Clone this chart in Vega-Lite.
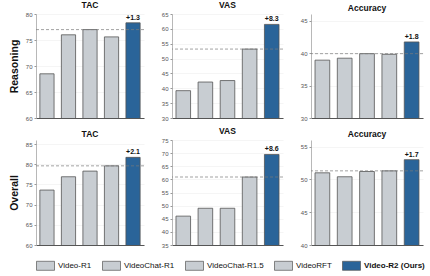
{
  "$schema": "https://vega.github.io/schema/vega-lite/v6.json",
  "padding": {"left": 9, "top": 0, "right": 2, "bottom": 2},
  "background": "white",
  "spacing": 5,
  "config": {
    "font": "Liberation Sans",
    "view": {"stroke": null},
    "title": {"fontSize": 8.5, "fontWeight": "bold", "offset": 2, "color": "#111"},
    "axisY": {"labelFontSize": 6, "labelColor": "#555", "domainColor": "#999", "tickColor": "#999", "tickSize": 2, "labelPadding": 2, "gridColor": "#eeeeee", "gridWidth": 0.6, "domainWidth": 0.7, "labelOverlap": false},
    "axisX": {"labels": false, "ticks": false, "title": null, "domainColor": "#555", "domainWidth": 1, "grid": false},
    "legend": {"orient": "bottom", "direction": "horizontal", "title": null, "labelFontSize": 8, "labelColor": "#111", "symbolType": "M-1,-0.5H1V0.5H-1Z", "symbolSize": 324, "symbolStrokeColor": "#555", "symbolStrokeWidth": 0.7, "columnPadding": 9, "labelOffset": 3, "offset": 8, "labelLimit": 200}
  },
  "data": {"values": [
    {"group": "Reasoning", "metric": "TAC", "model": "Video-R1", "value": 68.5},
    {"group": "Reasoning", "metric": "TAC", "model": "VideoChat-R1", "value": 76.0},
    {"group": "Reasoning", "metric": "TAC", "model": "VideoChat-R1.5", "value": 77.0},
    {"group": "Reasoning", "metric": "TAC", "model": "VideoRFT", "value": 75.6},
    {"group": "Reasoning", "metric": "TAC", "model": "Video-R2 (Ours)", "value": 78.3, "gain": "+1.3"},
    {"group": "Reasoning", "metric": "VAS", "model": "Video-R1", "value": 39.2},
    {"group": "Reasoning", "metric": "VAS", "model": "VideoChat-R1", "value": 42.1},
    {"group": "Reasoning", "metric": "VAS", "model": "VideoChat-R1.5", "value": 42.6},
    {"group": "Reasoning", "metric": "VAS", "model": "VideoRFT", "value": 53.2},
    {"group": "Reasoning", "metric": "VAS", "model": "Video-R2 (Ours)", "value": 61.5, "gain": "+8.3"},
    {"group": "Reasoning", "metric": "Accuracy", "model": "Video-R1", "value": 38.9},
    {"group": "Reasoning", "metric": "Accuracy", "model": "VideoChat-R1", "value": 39.2},
    {"group": "Reasoning", "metric": "Accuracy", "model": "VideoChat-R1.5", "value": 39.9},
    {"group": "Reasoning", "metric": "Accuracy", "model": "VideoRFT", "value": 39.8},
    {"group": "Reasoning", "metric": "Accuracy", "model": "Video-R2 (Ours)", "value": 41.7, "gain": "+1.8"},
    {"group": "Overall", "metric": "TAC", "model": "Video-R1", "value": 73.6},
    {"group": "Overall", "metric": "TAC", "model": "VideoChat-R1", "value": 76.9},
    {"group": "Overall", "metric": "TAC", "model": "VideoChat-R1.5", "value": 78.3},
    {"group": "Overall", "metric": "TAC", "model": "VideoRFT", "value": 79.6},
    {"group": "Overall", "metric": "TAC", "model": "Video-R2 (Ours)", "value": 81.7, "gain": "+2.1"},
    {"group": "Overall", "metric": "VAS", "model": "Video-R1", "value": 46.0},
    {"group": "Overall", "metric": "VAS", "model": "VideoChat-R1", "value": 49.0},
    {"group": "Overall", "metric": "VAS", "model": "VideoChat-R1.5", "value": 49.0},
    {"group": "Overall", "metric": "VAS", "model": "VideoRFT", "value": 60.9},
    {"group": "Overall", "metric": "VAS", "model": "Video-R2 (Ours)", "value": 69.5, "gain": "+8.6"},
    {"group": "Overall", "metric": "Accuracy", "model": "Video-R1", "value": 51.0},
    {"group": "Overall", "metric": "Accuracy", "model": "VideoChat-R1", "value": 50.4},
    {"group": "Overall", "metric": "Accuracy", "model": "VideoChat-R1.5", "value": 51.2},
    {"group": "Overall", "metric": "Accuracy", "model": "VideoRFT", "value": 51.3},
    {"group": "Overall", "metric": "Accuracy", "model": "Video-R2 (Ours)", "value": 53.0, "gain": "+1.7"}
  ]},
  "vconcat": [
    {"spacing": 16, "hconcat": [
      {"title": "TAC", "width": 108, "height": 104,
       "transform": [{"filter": "datum.group == 'Reasoning' && datum.metric == 'TAC'"}],
       "layer": [
        {"mark": {"type": "bar", "clip": true, "stroke": "#555", "strokeWidth": 0.8},
         "encoding": {
          "x": {"field": "model", "type": "nominal", "sort": null, "scale": {"paddingInner": 0.34, "paddingOuter": 0.18}},
          "y": {"field": "value", "type": "quantitative", "scale": {"domain": [60, 80], "zero": false}, "axis": {"values": [60, 65, 70, 75, 80], "labelOverlap": false, "title": "Reasoning", "titleFontSize": 10.5, "titleFontWeight": "bold", "titleColor": "#111", "titlePadding": 6}},
          "color": {"field": "model", "type": "nominal", "sort": null, "scale": {"domain": ["Video-R1", "VideoChat-R1", "VideoChat-R1.5", "VideoRFT", "Video-R2 (Ours)"], "range": ["#c8cdd2", "#c8cdd2", "#c8cdd2", "#c8cdd2", "#2a6499"]}, "legend": {"encode": {"labels": {"update": {"fontWeight": {"signal": "datum.label == 'Video-R2 (Ours)' ? 'bold' : 'normal'"}}}}}}}},
        {"mark": {"type": "rule", "strokeDash": [3, 2], "color": "#7a7a7a", "strokeWidth": 0.7},
         "transform": [{"filter": "datum.model != 'Video-R2 (Ours)'"}],
         "encoding": {"y": {"aggregate": "max", "field": "value", "type": "quantitative", "axis": {"values": [60, 65, 70, 75, 80], "labelOverlap": false, "title": "Reasoning"}}}},
        {"mark": {"type": "text", "dy": -5, "fontSize": 7, "fontWeight": "bold", "color": "#111"},
         "transform": [{"filter": "datum.model == 'Video-R2 (Ours)'"}],
         "encoding": {"x": {"field": "model", "type": "nominal", "sort": null}, "y": {"field": "value", "type": "quantitative", "axis": {"values": [60, 65, 70, 75, 80], "labelOverlap": false, "title": "Reasoning"}}, "text": {"field": "gain"}}}
       ]},
      {"title": "VAS", "width": 111, "height": 104,
       "transform": [{"filter": "datum.group == 'Reasoning' && datum.metric == 'VAS'"}],
       "layer": [
        {"mark": {"type": "bar", "clip": true, "stroke": "#555", "strokeWidth": 0.8},
         "encoding": {
          "x": {"field": "model", "type": "nominal", "sort": null, "scale": {"paddingInner": 0.34, "paddingOuter": 0.18}},
          "y": {"field": "value", "type": "quantitative", "scale": {"domain": [30, 65], "zero": false}, "axis": {"values": [30, 35, 40, 45, 50, 55, 60, 65], "labelOverlap": false, "title": null}},
          "color": {"field": "model", "type": "nominal", "sort": null}}},
        {"mark": {"type": "rule", "strokeDash": [3, 2], "color": "#7a7a7a", "strokeWidth": 0.7},
         "transform": [{"filter": "datum.model != 'Video-R2 (Ours)'"}],
         "encoding": {"y": {"aggregate": "max", "field": "value", "type": "quantitative", "axis": {"values": [30, 35, 40, 45, 50, 55, 60, 65], "labelOverlap": false, "title": null}}}},
        {"mark": {"type": "text", "dy": -5, "fontSize": 7, "fontWeight": "bold", "color": "#111"},
         "transform": [{"filter": "datum.model == 'Video-R2 (Ours)'"}],
         "encoding": {"x": {"field": "model", "type": "nominal", "sort": null}, "y": {"field": "value", "type": "quantitative", "axis": {"values": [30, 35, 40, 45, 50, 55, 60, 65], "labelOverlap": false, "title": null}}, "text": {"field": "gain"}}}
       ]},
      {"title": "Accuracy", "width": 112, "height": 104,
       "transform": [{"filter": "datum.group == 'Reasoning' && datum.metric == 'Accuracy'"}],
       "layer": [
        {"mark": {"type": "bar", "clip": true, "stroke": "#555", "strokeWidth": 0.8},
         "encoding": {
          "x": {"field": "model", "type": "nominal", "sort": null, "scale": {"paddingInner": 0.34, "paddingOuter": 0.18}},
          "y": {"field": "value", "type": "quantitative", "scale": {"domain": [30, 45], "zero": false}, "axis": {"values": [30, 35, 40, 45], "labelOverlap": false, "title": null}},
          "color": {"field": "model", "type": "nominal", "sort": null}}},
        {"mark": {"type": "rule", "strokeDash": [3, 2], "color": "#7a7a7a", "strokeWidth": 0.7},
         "transform": [{"filter": "datum.model != 'Video-R2 (Ours)'"}],
         "encoding": {"y": {"aggregate": "max", "field": "value", "type": "quantitative", "axis": {"values": [30, 35, 40, 45], "labelOverlap": false, "title": null}}}},
        {"mark": {"type": "text", "dy": -5, "fontSize": 7, "fontWeight": "bold", "color": "#111"},
         "transform": [{"filter": "datum.model == 'Video-R2 (Ours)'"}],
         "encoding": {"x": {"field": "model", "type": "nominal", "sort": null}, "y": {"field": "value", "type": "quantitative", "axis": {"values": [30, 35, 40, 45], "labelOverlap": false, "title": null}}, "text": {"field": "gain"}}}
       ]}
    ]},
    {"spacing": 16, "hconcat": [
      {"title": "TAC", "width": 108, "height": 105,
       "transform": [{"filter": "datum.group == 'Overall' && datum.metric == 'TAC'"}],
       "layer": [
        {"mark": {"type": "bar", "clip": true, "stroke": "#555", "strokeWidth": 0.8},
         "encoding": {
          "x": {"field": "model", "type": "nominal", "sort": null, "scale": {"paddingInner": 0.34, "paddingOuter": 0.18}},
          "y": {"field": "value", "type": "quantitative", "scale": {"domain": [60, 85], "zero": false}, "axis": {"values": [60, 65, 70, 75, 80, 85], "labelOverlap": false, "title": "Overall", "titleFontSize": 10.5, "titleFontWeight": "bold", "titleColor": "#111", "titlePadding": 6}},
          "color": {"field": "model", "type": "nominal", "sort": null}}},
        {"mark": {"type": "rule", "strokeDash": [3, 2], "color": "#7a7a7a", "strokeWidth": 0.7},
         "transform": [{"filter": "datum.model != 'Video-R2 (Ours)'"}],
         "encoding": {"y": {"aggregate": "max", "field": "value", "type": "quantitative", "axis": {"values": [60, 65, 70, 75, 80, 85], "labelOverlap": false, "title": "Overall"}}}},
        {"mark": {"type": "text", "dy": -5, "fontSize": 7, "fontWeight": "bold", "color": "#111"},
         "transform": [{"filter": "datum.model == 'Video-R2 (Ours)'"}],
         "encoding": {"x": {"field": "model", "type": "nominal", "sort": null}, "y": {"field": "value", "type": "quantitative", "axis": {"values": [60, 65, 70, 75, 80, 85], "labelOverlap": false, "title": "Overall"}}, "text": {"field": "gain"}}}
       ]},
      {"title": "VAS", "width": 111, "height": 105,
       "transform": [{"filter": "datum.group == 'Overall' && datum.metric == 'VAS'"}],
       "layer": [
        {"mark": {"type": "bar", "clip": true, "stroke": "#555", "strokeWidth": 0.8},
         "encoding": {
          "x": {"field": "model", "type": "nominal", "sort": null, "scale": {"paddingInner": 0.34, "paddingOuter": 0.18}},
          "y": {"field": "value", "type": "quantitative", "scale": {"domain": [35, 75], "zero": false}, "axis": {"values": [35, 40, 45, 50, 55, 60, 65, 70, 75], "labelOverlap": false, "title": null}},
          "color": {"field": "model", "type": "nominal", "sort": null}}},
        {"mark": {"type": "rule", "strokeDash": [3, 2], "color": "#7a7a7a", "strokeWidth": 0.7},
         "transform": [{"filter": "datum.model != 'Video-R2 (Ours)'"}],
         "encoding": {"y": {"aggregate": "max", "field": "value", "type": "quantitative", "axis": {"values": [35, 40, 45, 50, 55, 60, 65, 70, 75], "labelOverlap": false, "title": null}}}},
        {"mark": {"type": "text", "dy": -5, "fontSize": 7, "fontWeight": "bold", "color": "#111"},
         "transform": [{"filter": "datum.model == 'Video-R2 (Ours)'"}],
         "encoding": {"x": {"field": "model", "type": "nominal", "sort": null}, "y": {"field": "value", "type": "quantitative", "axis": {"values": [35, 40, 45, 50, 55, 60, 65, 70, 75], "labelOverlap": false, "title": null}}, "text": {"field": "gain"}}}
       ]},
      {"title": "Accuracy", "width": 112, "height": 105,
       "transform": [{"filter": "datum.group == 'Overall' && datum.metric == 'Accuracy'"}],
       "layer": [
        {"mark": {"type": "bar", "clip": true, "stroke": "#555", "strokeWidth": 0.8},
         "encoding": {
          "x": {"field": "model", "type": "nominal", "sort": null, "scale": {"paddingInner": 0.34, "paddingOuter": 0.18}},
          "y": {"field": "value", "type": "quantitative", "scale": {"domain": [40, 55], "zero": false}, "axis": {"values": [40, 45, 50, 55], "labelOverlap": false, "title": null}},
          "color": {"field": "model", "type": "nominal", "sort": null}}},
        {"mark": {"type": "rule", "strokeDash": [3, 2], "color": "#7a7a7a", "strokeWidth": 0.7},
         "transform": [{"filter": "datum.model != 'Video-R2 (Ours)'"}],
         "encoding": {"y": {"aggregate": "max", "field": "value", "type": "quantitative", "axis": {"values": [40, 45, 50, 55], "labelOverlap": false, "title": null}}}},
        {"mark": {"type": "text", "dy": -5, "fontSize": 7, "fontWeight": "bold", "color": "#111"},
         "transform": [{"filter": "datum.model == 'Video-R2 (Ours)'"}],
         "encoding": {"x": {"field": "model", "type": "nominal", "sort": null}, "y": {"field": "value", "type": "quantitative", "axis": {"values": [40, 45, 50, 55], "labelOverlap": false, "title": null}}, "text": {"field": "gain"}}}
       ]}
    ]}
  ]
}
